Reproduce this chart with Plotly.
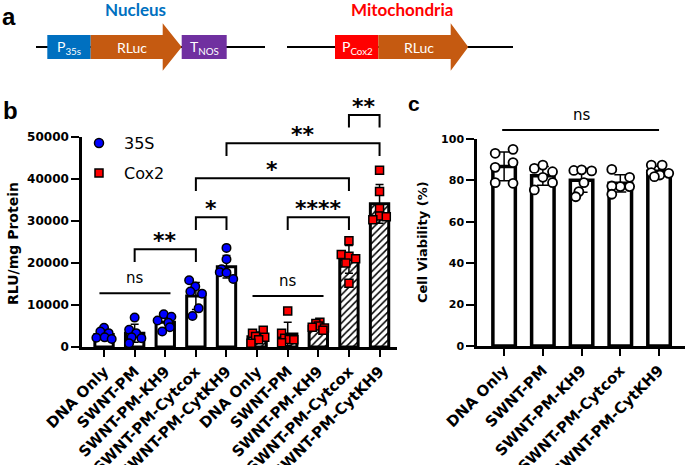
import numpy as np
import plotly.graph_objects as go

# ---------------- data ----------------
groups = ["DNA Only", "SWNT-PM", "SWNT-PM-KH9", "SWNT-PM-Cytcox", "SWNT-PM-CytKH9"]

rlu_35s = [
    [4600, 3700, 3300, 2200, 2300, 1900],
    [7000, 4100, 3300, 2100, 2300, 900],
    [7800, 7200, 6300, 5800, 4700, 3700],
    [15900, 14400, 13200, 12700, 9200, 7400],
    [23600, 20900, 18500, 17800, 17700, 16200],
]
rlu_cox2 = [
    [4000, 3300, 2500, 2300, 1700, 900],
    [8600, 3300, 2100, 1800, 1700, 1000],
    [5900, 5600, 5000, 4700, 4500, 4000],
    [25300, 22000, 21600, 21000, 20000, 15200],
    [42100, 37000, 33000, 31200, 30300, 31000],
]
viability = [
    [93.1, 95.0, 86.3, 88.6, 78.9, 78.6],
    [85.8, 87.4, 84.2, 81.5, 78.9, 75.4],
    [84.8, 85.1, 84.6, 78.9, 74.6, 72.1],
    [85.3, 81.5, 77.0, 77.3, 77.0, 73.3],
    [87.4, 87.4, 83.8, 82.6, 83.4, 81.8],
]
# comparisons in panel b: (group index a, group index b, label)
comparisons_b = [(1, 3, "**"), (3, 4, "*"), (6, 8, "****"), (3, 8, "*"), (4, 9, "**"), (8, 9, "**")]
ns_groups_b = [(0, 2), (5, 7)]

# ---------------- styling / layout helpers ----------------
W, H = 685, 465
def X(px): return px / W
def Y(py): return 1 - py / H

jit_b = [
    [0.0, -0.12, 0.15, -0.25, 0.02, 0.25],
    [0.0, -0.18, 0.05, 0.22, -0.1, -0.18],
    [-0.05, 0.2, -0.25, 0.1, 0.15, -0.1],
    [-0.22, -0.02, -0.18, 0.2, 0.09, -0.11],
    [0.0, 0.0, -0.16, -0.22, 0.0, 0.22],
    [0.2, -0.15, -0.05, 0.25, 0.05, -0.2],
    [0.0, -0.2, -0.1, 0.05, 0.2, -0.2],
    [0.05, -0.08, 0.0, -0.2, 0.2, 0.15],
    [0.0, -0.25, 0.0, 0.22, -0.1, 0.0],
    [0.0, 0.0, 0.0, 0.0, -0.22, 0.22],
]
jit_c = [
    [-0.23, 0.23, -0.23, 0.23, -0.23, 0.23],
    [-0.22, 0.0, 0.25, 0.0, 0.25, -0.22],
    [-0.2, 0.0, 0.26, 0.06, -0.07, -0.15],
    [-0.22, 0.24, 0.0, -0.22, 0.24, -0.22],
    [-0.2, 0.08, -0.2, 0.02, 0.25, -0.12],
]

dom_bx = [X(82), X(397)]
dom_by = [Y(347), Y(137)]
dom_cx = [X(477), 1.0]
dom_cy = [Y(346), Y(139)]
YMAX_B, YMAX_C = 50000, 100
def yb(v): return dom_by[0] + v / YMAX_B * (dom_by[1] - dom_by[0])
def yc(v): return dom_cy[0] + v / YMAX_C * (dom_cy[1] - dom_cy[0])

all_b = rlu_35s + rlu_cox2
means_b = [float(np.mean(g)) for g in all_b]
sds_b = [float(np.std(g, ddof=1)) for g in all_b]
means_c = [float(np.mean(g)) for g in viability]
sds_c = [float(np.std(g, ddof=1)) for g in viability]

fig = go.Figure()
# panel b bars
fig.add_trace(go.Bar(x=list(range(5)), y=means_b[:5], width=0.6,
    marker=dict(color="white", line=dict(color="black", width=3)),
    error_y=dict(type="data", array=sds_b[:5], color="black", thickness=1.5, width=4),
    xaxis="x", yaxis="y", showlegend=False))
fig.add_trace(go.Bar(x=list(range(5, 10)), y=means_b[5:], width=0.6,
    marker=dict(color="white", line=dict(color="black", width=3),
                pattern=dict(shape="/", fgcolor="black", bgcolor="white", size=5, solidity=0.3, fillmode="replace")),
    error_y=dict(type="data", array=sds_b[5:], color="black", thickness=1.5, width=4),
    xaxis="x", yaxis="y", showlegend=False))
# panel b points
for i, g in enumerate(all_b):
    blue = i < 5
    fig.add_trace(go.Scatter(
        x=[i + o for o in jit_b[i]], y=g, mode="markers", cliponaxis=False,
        marker=dict(symbol="circle" if blue else "square", size=8.5 if blue else 8,
                    color="#0000FF" if blue else "#FF0000", line=dict(color="black", width=1.5)),
        xaxis="x", yaxis="y", showlegend=False))
# panel c bars
fig.add_trace(go.Bar(x=list(range(5)), y=means_c, width=0.58,
    marker=dict(color="white", line=dict(color="black", width=3.5)),
    error_y=dict(type="data", array=sds_c, color="black", thickness=1.5, width=6),
    xaxis="x2", yaxis="y2", showlegend=False))
for i, g in enumerate(viability):
    fig.add_trace(go.Scatter(
        x=[i + o for o in jit_c[i]], y=g, mode="markers", cliponaxis=False,
        marker=dict(symbol="circle", size=9, color="white", line=dict(color="black", width=1.8)),
        xaxis="x2", yaxis="y2", showlegend=False))

bold12 = dict(family="DejaVu Sans", size=12, color="black", weight="bold")
catfont = dict(family="DejaVu Sans", size=15, color="black", weight="bold")
common = dict(showline=True, linecolor="black", linewidth=2.5, ticks="outside", tickwidth=2,
              tickcolor="black", showgrid=False, zeroline=False, automargin=False)
fig.update_layout(
    width=W, height=H, margin=dict(l=0, r=0, t=0, b=0, autoexpand=False), autosize=False,
    paper_bgcolor="white", plot_bgcolor="white", barmode="overlay",
    xaxis=dict(common, domain=dom_bx, range=[-0.72, 9.57], ticklen=7,
               tickvals=list(range(10)), ticktext=groups + groups, tickangle=-45,
               tickfont=catfont, anchor="y"),
    yaxis=dict(common, domain=dom_by, range=[0, YMAX_B], ticklen=8,
               tickvals=[0, 10000, 20000, 30000, 40000, 50000], tickformat="d", tickfont=bold12, anchor="x"),
    xaxis2=dict(common, domain=dom_cx, range=[-0.7, 4.67], ticklen=7,
                tickvals=list(range(5)), ticktext=groups, tickangle=-45,
                tickfont=catfont, anchor="y2"),
    yaxis2=dict(common, domain=dom_cy, range=[0, YMAX_C], ticklen=8,
                tickvals=[0, 20, 40, 60, 80, 100], tickfont=dict(bold12, size=11), anchor="x2"),
)

shapes = []
ann = []
LW = 2
def A(**kw):
    kw.setdefault("showarrow", False)
    kw.setdefault("xanchor", "center")
    kw.setdefault("yanchor", "middle")
    ann.append(kw)

# brackets panel b
levels = {(1, 3): 23260, (3, 4): 30880, (6, 8): 30880, (3, 8): 40170, (4, 9): 48500, (8, 9): 55240}
leg = 3000
for a, b, lab in comparisons_b:
    top = levels[(a, b)]
    shapes.append(dict(type="path", xref="x", yref="paper",
        path=f"M {a},{yb(top-leg)} L {a},{yb(top)} L {b},{yb(top)} L {b},{yb(top-leg)}",
        line=dict(color="black", width=LW)))
    A(x=(a + b) / 2, y=yb(top), xref="x", yref="paper", text=lab, yanchor="bottom", yshift=-6,
      font=dict(family="DejaVu Sans", size=22, color="black", weight="bold"))
ns_levels = {(0, 2): 12780, (5, 7): 12140}
for a, b in ns_groups_b:
    lv = ns_levels[(a, b)]
    shapes.append(dict(type="line", xref="x", yref="paper", x0=a - 0.15, x1=b + 0.17, y0=yb(lv), y1=yb(lv),
                       line=dict(color="black", width=LW)))
    A(x=(a + b) / 2, y=yb(lv), xref="x", yref="paper", text="ns", yanchor="bottom", yshift=4,
      font=dict(family="DejaVu Sans", size=15, color="black"))
# panel c ns
shapes.append(dict(type="line", xref="x2", yref="paper", x0=-0.05, x1=4.0, y0=yc(104.3), y1=yc(104.3),
                   line=dict(color="black", width=LW)))
A(x=2, y=yc(104.3), xref="x2", yref="paper", text="ns", yanchor="bottom", yshift=4,
  font=dict(family="DejaVu Sans", size=15, color="black"))

# legend (panel b)
shapes.append(dict(type="circle", xref="paper", yref="paper", x0=X(94.5), x1=X(103.5), y0=Y(147.5), y1=Y(138.5),
                   fillcolor="#0000FF", line=dict(color="black", width=1.5)))
shapes.append(dict(type="rect", xref="paper", yref="paper", x0=X(95), x1=X(103), y0=Y(177), y1=Y(169),
                   fillcolor="#FF0000", line=dict(color="black", width=1.5)))
A(x=X(122), y=Y(143), xref="paper", yref="paper", text="35S", xanchor="left",
  font=dict(family="DejaVu Sans", size=16, color="black"))
A(x=X(122), y=Y(173), xref="paper", yref="paper", text="Cox2", xanchor="left",
  font=dict(family="DejaVu Sans", size=16, color="black"))

# axis titles
A(x=X(13), y=Y(244), xref="paper", yref="paper", text="RLU/mg Protein", textangle=-90,
  font=dict(family="DejaVu Sans", size=14, color="black", weight="bold"))
A(x=X(423), y=Y(242), xref="paper", yref="paper", text="Cell Viability (%)", textangle=-90,
  font=dict(family="DejaVu Sans", size=13, color="black", weight="bold"))
# panel letters
for lt, px, py, sz in [("a", 9, 16, 24), ("b", 10, 110, 24), ("c", 414, 104, 21)]:
    A(x=X(px), y=Y(py), xref="paper", yref="paper", text=lt,
      font=dict(family="Liberation Sans", size=sz, color="black", weight="bold"))

# panel a schematic
def rect(x0, x1, y0, y1, col):
    return dict(type="rect", xref="paper", yref="paper", x0=X(x0), x1=X(x1), y0=Y(y1), y1=Y(y0),
                fillcolor=col, line=dict(width=0), layer="above")
def arrow(x0, xb, xt, y0, y1, hy0, hy1, col):
    ym = (y0 + y1) / 2
    pts = [(x0, y0), (xb, y0), (xb, hy0), (xt, ym), (xb, hy1), (xb, y1), (x0, y1)]
    p = "M " + " L ".join(f"{X(a)},{Y(b)}" for a, b in pts) + " Z"
    return dict(type="path", xref="paper", yref="paper", path=p, fillcolor=col, line=dict(width=0), layer="above")
shapes.append(dict(type="line", xref="paper", yref="paper", x0=X(36), x1=X(265), y0=Y(47), y1=Y(47),
                   line=dict(color="black", width=2)))
shapes.append(dict(type="line", xref="paper", yref="paper", x0=X(287), x1=X(513), y0=Y(47), y1=Y(47),
                   line=dict(color="black", width=2)))
shapes.append(rect(47.3, 90.7, 35, 59, "#0070C0"))
shapes.append(arrow(90.7, 162.7, 181.7, 35, 59, 23.3, 70.7, "#C55A11"))
shapes.append(rect(181.7, 226.7, 35, 59, "#7030A0"))
shapes.append(rect(335, 378.3, 35, 59, "#FF0000"))
shapes.append(arrow(378.3, 450.7, 468.3, 35, 59, 23.3, 70.7, "#C55A11"))
wf = dict(family="Lato", size=14, color="white")
for t, px in [("P<sub>35s</sub>", 69), ("RLuc", 132), ("T<sub>NOS</sub>", 204), ("P<sub>Cox2</sub>", 357), ("RLuc", 419)]:
    A(x=X(px), y=Y(47), xref="paper", yref="paper", text=t, font=wf)
A(x=X(135), y=Y(9), xref="paper", yref="paper", text="Nucleus",
  font=dict(family="Lato", size=17, color="#0070C0", weight="bold"))
A(x=X(402), y=Y(9), xref="paper", yref="paper", text="Mitochondria",
  font=dict(family="Lato", size=17, color="#FF0000", weight="bold"))

fig.update_layout(shapes=shapes, annotations=ann)
fig.write_html("out.html", config={"displayModeBar": False},
               post_script="document.body.style.margin='0px';")
